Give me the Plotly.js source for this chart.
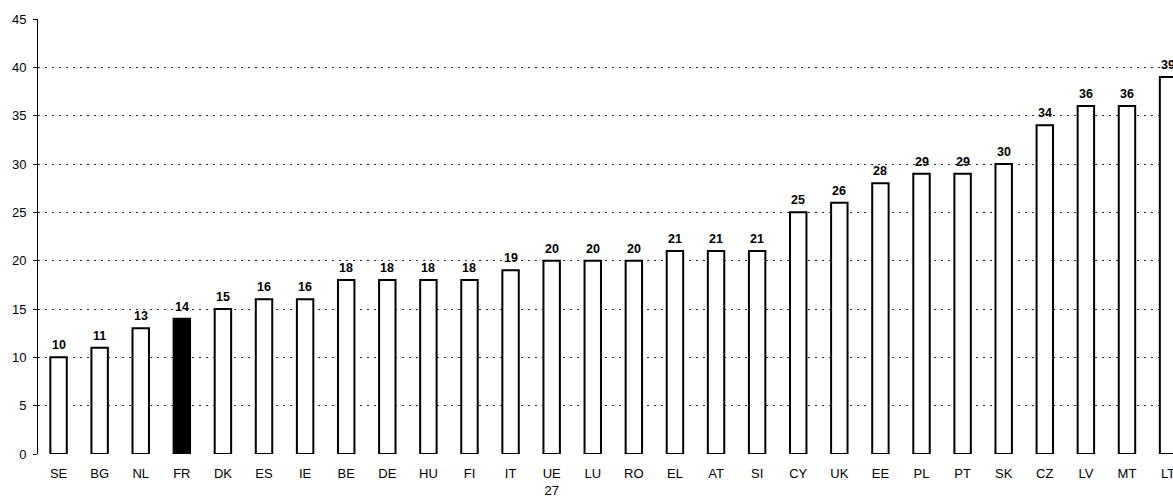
<!DOCTYPE html>
<html><head><meta charset="utf-8">
<script src="https://cdn.plot.ly/plotly-3.0.1.min.js"></script>
<style>html,body{margin:0;padding:0;background:#fff;}#chart{width:1173px;height:496px;}</style>
</head><body><div id="chart"></div>
<script>
const categories = ["SE","BG","NL","FR","DK","ES","IE","BE","DE","HU","FI","IT","UE<br>27","LU","RO","EL","AT","SI","CY","UK","EE","PL","PT","SK","CZ","LV","MT","LT"];
const values = [10,11,13,14,15,16,16,18,18,18,18,19,20,20,20,21,21,21,25,26,28,29,29,30,34,36,36,39];
const highlight = "FR";

const xs = categories.map((c,i)=>i);
const fills = categories.map(c => c===highlight ? "#000000" : "#ffffff");

const trace = {
  type: "bar",
  x: xs,
  y: values,
  width: 0.4,
  marker: {color: fills, line: {color: "#000000", width: 2}},
  cliponaxis: false,
  hoverinfo: "none"
};

const annotations = values.map((v,i)=>({
  x: xs[i], y: v, xref: "x", yref: "y",
  text: "<b>" + v + "</b>",
  showarrow: false, yanchor: "bottom", xanchor: "center",
  yshift: 3,
  font: {family: "Liberation Sans, Arial, sans-serif", size: 12.5, color: "#000"}
}));

const layout = {
  width: 1173, height: 496,
  margin: {l: 38, r: 0, t: 19, b: 42, pad: 0},
  paper_bgcolor: "#fff", plot_bgcolor: "#fff",
  showlegend: false,
  font: {family: "Liberation Sans, Arial, sans-serif", size: 13, color: "#000"},
  annotations: annotations,
  xaxis: {
    range: [-0.5, 27.12],
    tickmode: "array", tickvals: xs, ticktext: categories,
    showgrid: false, zeroline: false, showline: false,
    ticks: "", ticklabelstandoff: 10, ticklabeloverflow: "allow",
    tickfont: {size: 13}
  },
  yaxis: {
    range: [0, 45], dtick: 5, tick0: 0,
    showgrid: true, gridcolor: "#333", griddash: "2px,5px", gridwidth: 1,
    zeroline: false, showline: true, linecolor: "#000", linewidth: 1,
    ticks: "outside", ticklen: 4, tickcolor: "#000", ticklabelstandoff: 4,
    tickfont: {size: 13}
  }
};

Plotly.newPlot("chart", [trace], layout, {displayModeBar: false, staticPlot: true});
</script></body></html>
